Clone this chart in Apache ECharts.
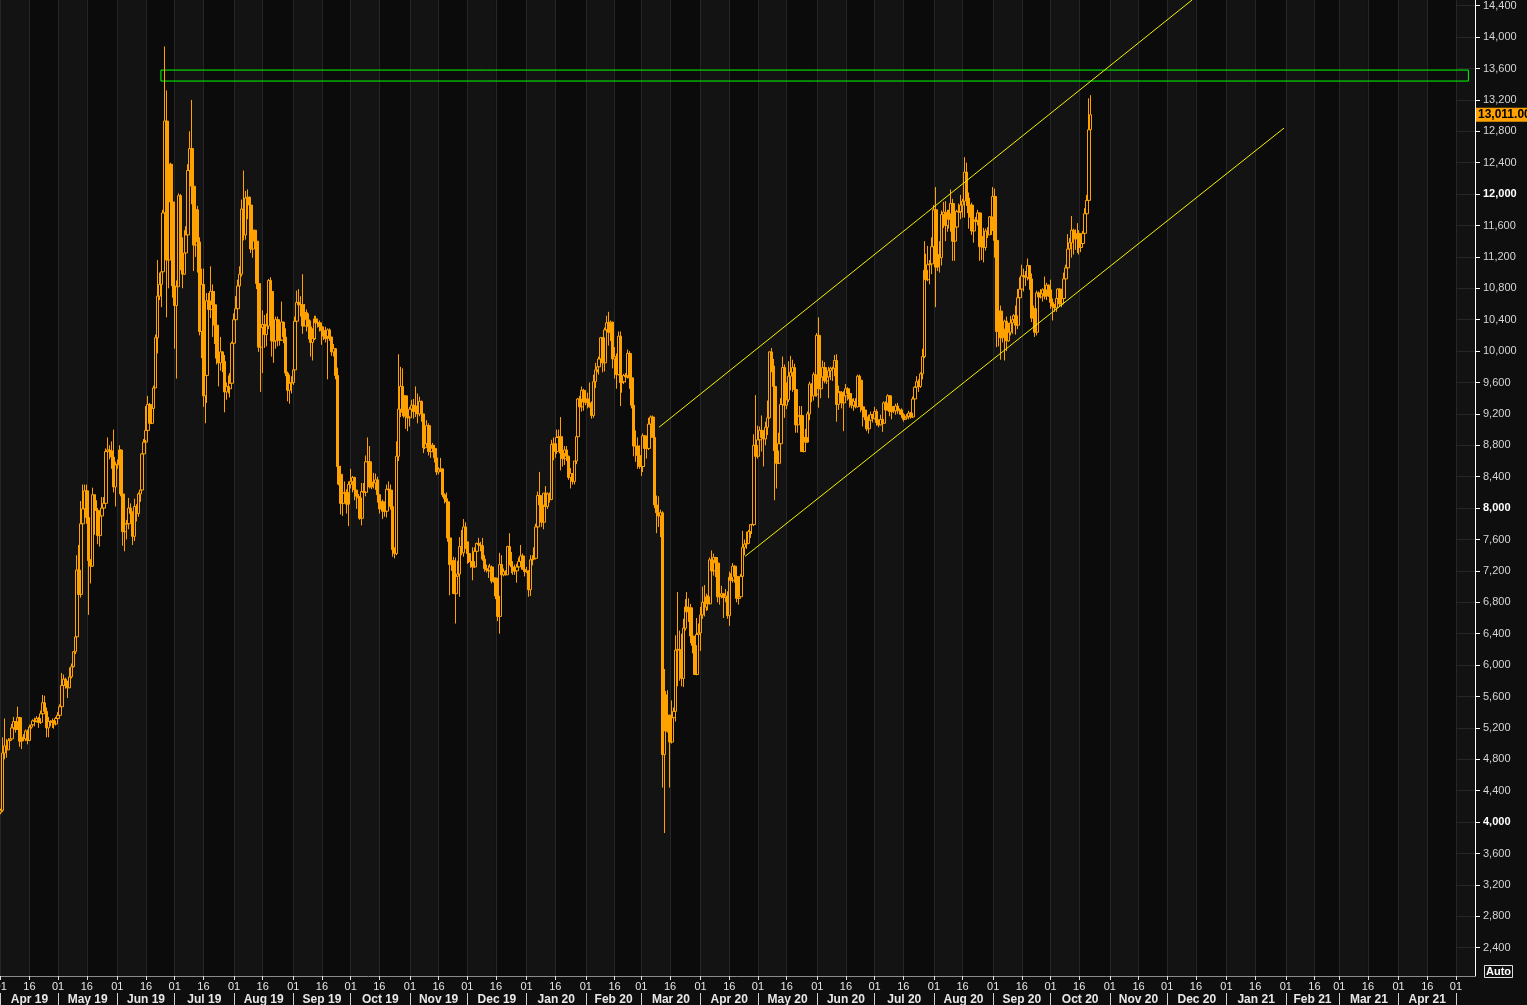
<!DOCTYPE html>
<html><head><meta charset="utf-8">
<script src="https://cdn.jsdelivr.net/npm/echarts@6/dist/echarts.min.js"></script>
<style>html,body{margin:0;padding:0;background:#0e0e0e;}#c{width:1527px;height:1005px;}</style>
</head><body><div id="c"></div>
<script>
// ---------- DATA (daily XBT/USD, 1 Apr 2019 .. 22 Oct 2020) ----------
const startDate = '2019-04-01';
const firstOpen = 4120;
const closes = [
 // Apr 19
 4150,4880,4970,4920,5040,5060,5200,5280,5180,5330,5030,5080,5060,5160,5040,5210,5240,5290,5280,5320,5270,5380,5520,5410,5200,5280,5270,5290,5250,5320,
 // May 19
 5360,5470,5740,5820,5740,5710,5850,5980,6170,6360,7210,6900,7800,7990,8220,7880,7330,7260,8170,7970,7970,7650,7900,8000,8060,8720,8740,8730,8650,8270,8550,
 // Jun 19
 8560,8740,8180,7700,7800,7800,8000,7930,7640,8020,7930,8180,8230,8690,8840,8990,9320,9080,9270,9530,10170,10700,10850,11010,11760,12930,11160,12380,11900,10830,
 // Jul 19
 10580,10820,11980,11150,10980,11250,11480,12300,12580,12100,11350,11800,11390,10250,10850,9430,9690,10640,10530,10760,10590,10330,9910,9850,9990,9870,9480,9550,9520,9590,10100,
 // Aug 19
 10400,10540,10830,10980,11810,11480,11950,11960,11860,11300,11540,11400,10860,10050,10300,10340,10210,10320,10900,10760,10130,10130,10400,10140,10140,10370,10180,9720,9500,9590,9600,
 // Sep 19
 9760,10380,10620,10590,10590,10320,10490,10400,10310,10110,10160,10410,10360,10360,10310,10260,10190,10160,10270,10180,9990,10030,9690,8530,8430,8060,8190,8200,8050,8300,
 // Oct 19
 8340,8390,8230,8150,8130,7870,8210,8200,8590,8590,8270,8330,8320,8360,8170,7990,8080,7960,7960,8240,8230,8020,7470,7420,8660,9260,9550,9220,9430,9170,9150,
 // Nov 19
 9260,9310,9230,9300,9200,9360,9200,8770,8820,9050,8720,8800,8760,8640,8460,8490,8500,8170,8120,8080,7620,7280,7330,6910,7130,7160,7510,7430,7760,7570,
 // Dec 19
 7420,7320,7320,7250,7450,7550,7530,7520,7350,7230,7210,7200,7250,7070,7110,6880,6620,7280,7150,7190,7150,7510,7320,7250,7200,7200,7250,7320,7390,7220,7190,
 // Jan 20
 7200,6960,7340,7350,7360,7760,8160,8040,7820,8190,8020,8180,8110,8810,8820,8720,8900,8910,8700,8630,8740,8660,8390,8440,8340,8600,8910,9390,9290,9500,9350,
 // Feb 20
 9390,9340,9290,9180,9610,9760,9800,9900,10170,9850,10270,10360,10240,10370,9900,9930,9700,10190,9600,9610,9690,9670,9970,9660,9310,8790,8790,8670,8530,
 // Mar 20
 8530,8920,8760,8760,9070,9160,8900,8040,7940,7900,7940,4860,5620,5160,5360,5020,5330,5410,6190,6200,6190,5830,6470,6740,6680,6730,6370,6250,5880,6390,6410,
 // Apr 20
 6640,6800,6740,6870,6780,7340,7200,7370,7300,6870,6890,6910,6860,6880,6630,7120,7080,7260,7130,6850,6870,7130,7500,7540,7550,7700,7790,7790,8800,8660,
 // May 20
 8870,8990,8900,8880,9030,9150,9990,9810,9550,8730,8570,8820,9320,9790,9310,9380,9680,9730,9790,9510,9060,9170,9180,8720,8900,8840,9200,9580,9430,9700,9450,
 // Jun 20
 10200,9520,9670,9790,9620,9670,9750,9780,9780,9880,9320,9480,9470,9340,9430,9520,9460,9390,9310,9360,9290,9680,9630,9290,9250,9160,9010,9120,9190,9140,
 // Jul 20
 9230,9090,9060,9130,9080,9340,9250,9430,9230,9290,9240,9300,9240,9250,9190,9130,9150,9170,9210,9160,9390,9540,9610,9550,9710,9930,11030,10910,11100,11110,11330,
 // Aug 20
 11800,11070,11230,11190,11740,11770,11600,11750,11680,11880,11400,11580,11780,11770,11860,11910,12280,11950,11760,11860,11530,11670,11650,11760,11330,11460,11320,11530,11480,11710,11680,
 // Sep 20
 11970,11410,10250,10510,10170,10280,10380,10130,10240,10360,10400,10450,10330,10680,10790,10960,10950,10940,11090,10920,10420,10540,10240,10740,10690,10730,10780,10700,10840,10780,
 // Oct 20
 10620,10570,10550,10670,10790,10600,10670,10920,11060,11300,11380,11540,11430,11430,11500,11320,11370,11500,11750,11920,12820,13011
];
const highs = [
 4170,5080,5320,5060,5070,5200,5250,5340,5280,5470,5340,5100,5120,5180,5180,5240,5280,5310,5330,5350,5340,5420,5620,5610,5460,5340,5300,5320,5300,5340,
 5400,5500,5900,5880,5840,5800,5970,6020,6180,6430,7400,7530,8090,8300,8300,8300,7940,7350,8260,8120,8100,8000,7950,8140,8140,8760,8900,8800,8850,9000,8590,
 8620,8800,8750,8180,7890,7850,8130,8060,7960,8120,8050,8200,8310,8700,8880,9300,9430,9340,9300,9560,10210,11160,11000,11050,11800,13880,13320,12440,12400,12200,
 11250,10900,12010,12000,11450,11540,11590,12380,12800,13200,12150,11950,11850,11450,11050,11050,9990,10740,10740,11080,10850,10680,10350,10000,10180,10000,9950,9600,9690,9720,10120,
 10480,10700,10910,11080,11930,12300,12040,12060,11970,11930,11580,11510,11430,10860,10450,10520,10460,10480,10920,10940,10770,10240,10440,10440,10360,10630,10370,10290,9740,9700,9680,
 9860,10440,10770,10790,10700,10980,10600,10530,10480,10390,10290,10450,10450,10410,10390,10350,10260,10310,10290,10290,10180,10090,10040,9790,8700,8540,8250,8340,8240,8340,
 8500,8410,8400,8220,8180,8150,8320,8320,8670,8900,8790,8480,8450,8440,8400,8180,8120,8110,8080,8300,8340,8300,8060,7500,8850,9960,9800,9780,9510,9400,9410,
 9290,9380,9390,9550,9460,9420,9370,9200,8850,9120,9080,8870,8830,8800,8750,8520,8640,8500,8190,8200,8090,7720,7360,7380,7370,7330,7630,7720,7860,7820,
 7570,7440,7380,7500,7500,7560,7620,7570,7620,7400,7280,7270,7290,7270,7200,7110,6950,7430,7400,7230,7210,7520,7680,7440,7270,7280,7290,7370,7530,7420,7260,
 7250,7210,7400,7400,7500,7800,8210,8460,8050,8190,8280,8200,8200,8870,8900,8850,9000,9000,9160,8690,8790,8790,8670,8510,8430,8600,8970,9400,9430,9550,9520,
 9450,9470,9600,9360,9700,9850,9880,9930,10180,10170,10300,10450,10500,10390,10370,10050,9970,10250,10250,9680,9710,9720,10020,10000,9670,9370,8990,8900,8800,
 8750,8950,8910,8850,9150,9180,9180,8900,8160,8150,7980,7960,5950,5670,5680,5370,5550,5460,6380,6930,6440,6400,6590,6840,6930,6850,6780,6370,6280,6600,6530,
 6740,7000,7020,6910,6890,7370,7460,7420,7380,7310,6950,7010,6920,6970,6940,7190,7170,7300,7270,7140,6950,7160,7710,7600,7700,7720,7790,7800,8940,9440,
 9050,9040,9180,8950,9100,9370,10000,10040,9900,9580,9030,8960,9400,9930,9830,9600,9870,9940,9890,9840,9570,9260,9300,9300,8970,9010,9230,9610,9590,9730,9700,
 10230,10430,9690,9880,9860,9740,9800,9800,9800,9950,9960,9560,9490,9490,9490,9580,9540,9480,9460,9400,9400,9700,9700,9670,9320,9290,9200,9190,9230,9200,
 9290,9260,9130,9190,9130,9360,9360,9450,9440,9310,9300,9330,9340,9270,9270,9210,9190,9200,9240,9220,9420,9550,9680,9640,9730,10030,11400,11240,11340,11160,11450,
 11860,12090,11480,11400,11790,11900,11910,11800,11800,12060,11940,11680,11800,11880,11990,11940,12470,12400,12020,11890,11890,11690,11710,11800,11760,11570,11570,11560,11580,11720,11770,
 12090,12070,11460,10650,10580,10360,10400,10440,10360,10450,10400,10470,10580,10790,10940,11100,11050,11020,11180,11080,10990,10580,10540,10770,10760,10790,10800,10950,10870,10850,
 10910,10670,10600,10700,10800,10800,10690,11000,11100,11490,11440,11720,11560,11550,11630,11540,11410,11530,11820,11990,13220,13260
];
const lows = [
 4100,4130,4800,4820,4920,5030,5060,5160,5140,5180,4960,4930,5030,5030,4990,5030,5190,5230,5220,5270,5200,5250,5370,5380,5080,5080,5220,5200,5190,5230,
 5310,5350,5460,5590,5700,5580,5710,5830,5970,6140,6350,6800,6860,7720,7970,7800,6640,7040,7250,7660,7830,7540,7510,7820,7960,8050,8640,8620,8500,8200,8020,
 8500,8500,8150,7520,7450,7600,7730,7850,7530,7580,7830,7890,8080,8200,8630,8870,8940,9010,9070,9260,9530,9970,10650,10560,10970,11760,10430,10800,11470,10680,
 10030,9650,10820,11030,10800,10970,11040,11290,12070,11870,11020,11200,11000,10200,9910,9290,9080,9340,10200,10420,10180,10090,9830,9550,9750,9730,9220,9380,9460,9410,9590,
 10020,10350,10530,10560,10950,11410,11420,11680,11590,11250,11190,11350,10790,9990,9480,9720,10040,10060,10280,10600,9930,9850,10030,10060,10070,10130,10100,9680,9360,9330,9460,
 9570,9740,10370,10400,10440,10220,10340,10250,10150,9930,9880,10140,10150,10300,10250,10080,10140,10110,9640,10130,9940,9930,9640,8300,8290,7920,7900,8110,7930,7770,
 8250,8200,8100,7990,8080,7850,7780,8120,8150,8460,8250,8240,8250,8230,8070,7930,7990,7860,7890,7880,8150,7980,7380,7360,7400,8600,9160,9170,9150,9010,8980,
 9040,9200,9140,9160,9080,9170,9100,8700,8750,8810,8670,8640,8710,8580,8420,8430,8460,8140,8060,8010,7570,6890,7200,6910,6530,7080,6870,7400,7380,7480,
 7290,7300,7240,7080,7240,7410,7500,7450,7330,7190,7180,7110,7200,7040,7050,6840,6560,6400,7080,7130,7140,7150,7270,7170,7150,7150,7050,7260,7300,7220,7130,
 7170,6870,6880,7270,7340,7350,7750,7880,7760,7730,8010,7990,8070,8100,8610,8640,8690,8780,8480,8530,8550,8600,8360,8250,8300,8300,8560,8880,9240,9230,9240,
 9310,9270,9280,9140,9150,9530,9730,9700,9860,9730,9740,10220,10070,10130,9780,9650,9520,9690,9300,9470,9580,9600,9650,9520,9270,8660,8590,8500,8500,
 8410,8460,8660,8630,8740,9030,8900,8000,7680,7760,7630,4440,3860,5090,5140,4440,5000,5020,5280,5730,5800,5730,5720,6440,6550,6550,6280,6150,5880,5870,6360,
 6180,6590,6620,6690,6700,6780,7120,7140,7120,6800,6770,6850,6600,6800,6590,6500,7030,7050,7050,6800,6770,6850,7080,7400,7480,7540,7620,7670,7770,8450,
 8630,8760,8720,8530,8800,8930,9140,9730,9530,8100,8250,8560,8820,9260,9150,9260,9350,9500,9480,9450,8960,8960,9120,8720,8710,8720,8840,9120,9350,9370,9420,
 9420,9280,9400,9530,9590,9580,9400,9630,9620,9680,9100,9250,9350,9270,8980,9380,9370,9280,9270,9240,9270,9280,9560,9220,9040,9120,8980,8950,9020,9090,
 9130,9050,9030,9050,8970,9080,9210,9240,9170,9130,9210,9190,9200,9190,9150,9100,9130,9130,9130,9140,9150,9290,9490,9480,9530,9640,9910,10640,10890,10850,10980,
 11250,10560,11020,11000,11090,11570,11400,11520,11560,11520,11150,11150,11450,11660,11680,11700,11700,11850,11560,11700,11480,11380,11530,11600,11150,11160,11130,11280,11440,11480,11480,
 11530,11190,10050,10060,9890,10110,9880,10000,10120,10200,10220,10360,10210,10280,10630,10700,10760,10830,10900,10780,10370,10360,10180,10200,10540,10670,10630,10660,10650,10690,
 10540,10390,10500,10500,10630,10560,10560,10640,10820,11050,11260,11190,11230,11290,11250,11230,11260,11350,11400,11560,11910,12720
];
const lastPrice = 13011;
const lastPriceLabel = '13,011.00';
// resistance zone (green box)
const zonePrices = [13440, 13580];
const zoneTimes = ['2019-06-23T19:00:00Z', '2021-05-07T12:00:00Z'];
// trend channel (yellow lines)
const upperChannel = [['2020-03-10T05:00:00Z', 9029], ['2020-12-14T00:00:00Z', 14473]];
const lowerChannel = [['2020-04-24T05:00:00Z', 7384], ['2021-01-31T02:00:00Z', 12841]];
// y-axis tick labels
const yTicks = [2400,2800,3200,3600,4000,4400,4800,5200,5600,6000,6400,6800,7200,7600,8000,8400,8800,9200,9600,10000,10400,10800,11200,11600,12000,12400,12800,13200,13600,14000,14400];
const monthNames = ['Jan','Feb','Mar','Apr','May','Jun','Jul','Aug','Sep','Oct','Nov','Dec'];

// ---------- BUILD (x = days since startDate) ----------
const DAY = 86400000;
const t0 = Date.parse(startDate + 'T00:00:00Z');
const toDay = iso => (Date.parse(iso) - t0) / DAY;
const dayToDate = d => new Date(t0 + Math.round(d * 24) * 3600000);
const candles = closes.map((c, i) => [i, i === 0 ? firstOpen : closes[i - 1], c, lows[i], highs[i]]);

const xMin = -0.366;
const xMax = 770.96;

const dayTicks = [], monthStarts = [], monthMids = [];
for (let k = 0; k < 26; k++) {
  const y = 2019 + Math.floor((3 + k) / 12), m = (3 + k) % 12;
  const s = (Date.UTC(y, m, 1) - t0) / DAY, e = (Date.UTC(y, m + 1, 1) - t0) / DAY;
  dayTicks.push(s, (Date.UTC(y, m, 16) - t0) / DAY);
  monthStarts.push(s);
  monthMids.push((s + e) / 2);
}
const FONT = '"Liberation Sans", Arial, sans-serif';
const ORANGE = '#ffa200';

const chart = echarts.init(document.getElementById('c'), null, {renderer: 'canvas'});
chart.setOption({
  animation: false,
  backgroundColor: '#0e0e0e',
  grid: {left: 0, top: 0, width: 1475, height: 976, show: true, backgroundColor: '#121212', borderWidth: 0,
    containLabel: false, outerBoundsMode: 'none'},
  xAxis: [{
    type: 'value', min: xMin, max: xMax, gridIndex: 0, position: 'bottom',
    axisLine: {show: true, onZero: false, lineStyle: {color: '#8a8a8a', width: 1}},
    axisTick: {show: true, customValues: dayTicks, length: 4, lineStyle: {color: '#e0e0e0'}},
    axisLabel: {customValues: dayTicks, margin: 5, color: '#e6e6e6', fontSize: 11, fontFamily: FONT,
      formatter: v => String(dayToDate(v).getUTCDate()).padStart(2, '0')},
    splitLine: {show: true, lineStyle: {color: '#262626', width: 1}},
    splitArea: {show: true, areaStyle: {color: ['#131313', '#0b0b0b']}}
  }, {
    type: 'value', min: xMin, max: xMax, gridIndex: 0, position: 'bottom', offset: 17,
    axisLine: {show: false, onZero: false},
    axisTick: {show: true, customValues: monthStarts, length: 13, lineStyle: {color: '#d0d0d0'}},
    axisLabel: {customValues: monthMids, margin: 1, color: '#e8e8e8', fontSize: 12, fontWeight: 'bold', fontFamily: FONT,
      formatter: v => { const d = dayToDate(v); return monthNames[d.getUTCMonth()] + ' ' + String(d.getUTCFullYear()).slice(2); }},
    splitLine: {show: false}, splitArea: {show: false}
  }],
  yAxis: {
    type: 'value', position: 'right', min: 2039.3, max: 14472.6,
    axisLine: {show: true, onZero: false, lineStyle: {color: '#ffffff', width: 1}},
    axisTick: {show: true, inside: false, customValues: yTicks, length: 5, lineStyle: {color: '#ffffff'}},
    axisLabel: {customValues: yTicks, margin: 8, color: '#d6d6d6', fontSize: 11, fontFamily: FONT,
      formatter: v => { const s = v.toLocaleString('en-US'); return v % 4000 === 0 ? '{b|' + s + '}' : s; },
      rich: {b: {fontWeight: 'bold', color: '#ffffff', fontSize: 11, fontFamily: FONT}}},
    splitLine: {show: true, lineStyle: {color: '#262626', width: 1}}
  },
  series: [{
    type: 'candlestick', xAxisIndex: 0, yAxisIndex: 0, data: candles,
    encode: {x: 0, y: [1, 2, 3, 4]},
    barWidth: 3, silent: true, z: 2,
    itemStyle: {color: 'rgba(0,0,0,0)', color0: ORANGE, borderColor: ORANGE, borderColor0: ORANGE, borderWidth: 1},
    markArea: {silent: true, itemStyle: {color: 'rgba(0,0,0,0)', borderColor: '#00ff00', borderWidth: 1},
      data: [[{xAxis: toDay(zoneTimes[0]), yAxis: zonePrices[0]}, {xAxis: toDay(zoneTimes[1]), yAxis: zonePrices[1]}]]},
    markLine: {silent: true, symbol: ['none', 'none'], lineStyle: {color: 'rgba(0,0,0,0)', width: 0},
      label: {show: true, position: 'end', distance: 1, formatter: lastPriceLabel, backgroundColor: ORANGE, color: '#000',
        fontWeight: 'bold', fontSize: 12, fontFamily: FONT, padding: [1, 3, 1, 2]},
      data: [{yAxis: lastPrice}]}
  }, {
    type: 'line', data: upperChannel.map(p => [toDay(p[0]), p[1]]), symbol: 'none', silent: true, clip: false, z: 3,
    lineStyle: {color: '#f2f200', width: 1}
  }, {
    type: 'line', data: lowerChannel.map(p => [toDay(p[0]), p[1]]), symbol: 'none', silent: true, clip: false, z: 3,
    lineStyle: {color: '#f2f200', width: 1}
  }],
  graphic: [{
    type: 'group', left: 1482, top: 963, children: [
      {type: 'rect', shape: {x: 0.5, y: 0.5, width: 28, height: 12}, style: {fill: 'none', stroke: '#e0e0e0', lineWidth: 1}},
      {type: 'text', x: 2, y: 1, style: {text: 'Auto', fill: '#ffffff', font: 'bold 11px ' + FONT}}
    ]
  }]
});
</script>
</body></html>
